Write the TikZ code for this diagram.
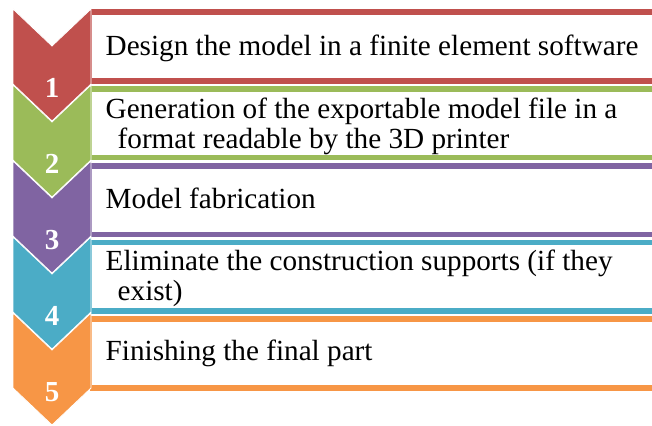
\documentclass[tikz,border=0pt]{standalone}
\usepackage{fontspec}
\setmainfont[Ligatures=NoCommon]{Liberation Serif}
\definecolor{cRed}{HTML}{C0504D}
\definecolor{cGreen}{HTML}{9BBB59}
\definecolor{cPurple}{HTML}{8064A2}
\definecolor{cCyan}{HTML}{4BACC6}
\definecolor{cOrange}{HTML}{F79646}
\tikzset{
  chev/.style={fill=#1, draw=white, line width=0.8pt, line join=miter},
  boxframe/.style={draw=#1, line width=1.2pt, fill=white},
  boxbar/.style={fill=#1},
  numlbl/.style={text=white, anchor=base, inner sep=0pt, font=\fontsize{29}{29}\selectfont\bfseries},
  steptxt/.style={anchor=base west, inner sep=0pt, font=\fontsize{29.2}{30}\selectfont},
}
\newcommand{\chevronat}[2]{%
  \path[chev=#1] (13,#2) -- (52,#2+37) -- (91,#2) -- (91,#2+75) -- (52,#2+112) -- (13,#2+75) -- cycle;}
\newcommand{\stepbox}[2]{%
  \path[boxframe=#1] (91,#2) rectangle (670,#2+73);
  \path[boxbar=#1] (90.4,#2-0.6) rectangle (670,#2+5);
  \path[boxbar=#1] (90.4,#2+68) rectangle (670,#2+73.6);}
\begin{document}
\begin{tikzpicture}[x=1pt,y=-1pt]
\useasboundingbox (0,0) rectangle (652,425);
\fill[white] (0,0) rectangle (652,425);
% boxes
\stepbox{cRed}{10}
\stepbox{cGreen}{86.75}
\stepbox{cPurple}{163.5}
\stepbox{cCyan}{240.25}
\stepbox{cOrange}{317}
% chevrons
\chevronat{cOrange}{313}
\chevronat{cCyan}{237}
\chevronat{cPurple}{161}
\chevronat{cGreen}{85}
\chevronat{cRed}{9}
% numbers
\node[numlbl] (n1) at (52,97) {1};
\node[numlbl] (n2) at (52,173) {2};
\node[numlbl] (n3) at (52,249) {3};
\node[numlbl] (n4) at (52,325) {4};
\node[numlbl] (n5) at (52,401) {5};
% texts
\node[steptxt] (t1) at (105.5,55.5) {Design the model in a finite element software};
\node[steptxt] (t2a) at (105.5,118) {Generation of the exportable model file in a};
\node[steptxt] (t2b) at (117.5,148) {format readable by the 3D printer};
\node[steptxt] (t3) at (105.5,208) {Model fabrication};
\node[steptxt] (t4a) at (105.5,270) {Eliminate the construction supports (if they};
\node[steptxt] (t4b) at (117.5,300) {exist)};
\node[steptxt] (t5) at (105.5,360) {Finishing the final part};
\end{tikzpicture}
\end{document}
